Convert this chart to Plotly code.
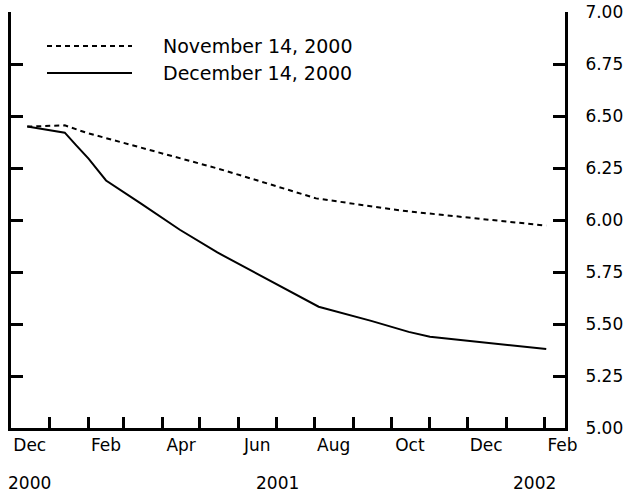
import plotly.graph_objects as go

# ---- data ----
series_names = ["November 14, 2000", "December 14, 2000"]

nov_dates = ["2000-12-14", "2001-01-13", "2001-01-30", "2001-03-15", "2001-04-15",
             "2001-05-15", "2001-06-15", "2001-07-15", "2001-08-02", "2001-09-23",
             "2001-10-15", "2001-11-15", "2001-12-15", "2002-01-15", "2002-02-02"]
nov_values = [6.449, 6.455, 6.42, 6.349, 6.298,
              6.248, 6.192, 6.137, 6.104, 6.059,
              6.041, 6.022, 6.004, 5.985, 5.973]

dec_dates = ["2000-12-14", "2001-01-13", "2001-01-22", "2001-02-01", "2001-02-09",
             "2001-02-15", "2001-03-15", "2001-04-15", "2001-05-15", "2001-06-15",
             "2001-07-15", "2001-08-04", "2001-09-15", "2001-10-15", "2001-11-01",
             "2001-12-01", "2002-01-01", "2002-02-02"]
dec_values = [6.449, 6.42, 6.36, 6.295, 6.235,
              6.19, 6.079, 5.953, 5.844, 5.745,
              5.65, 5.583, 5.515, 5.462, 5.439,
              5.42, 5.401, 5.38]

month_starts = ["2001-01-01", "2001-02-01", "2001-03-01", "2001-04-01", "2001-05-01",
                "2001-06-01", "2001-07-01", "2001-08-01", "2001-09-01", "2001-10-01",
                "2001-11-01", "2001-12-01", "2002-01-01", "2002-02-01"]
month_label_dates = ["2000-12-16", "2001-02-15", "2001-04-16", "2001-06-16",
                     "2001-08-16", "2001-10-16", "2001-12-16", "2002-02-15"]
month_labels = ["Dec", "Feb", "Apr", "Jun", "Aug", "Oct", "Dec", "Feb"]
year_label_dates = ["2000-12-16", "2001-07-02", "2002-01-24"]
year_labels = ["2000", "2001", "2002"]
y_tickvals = [5.00, 5.25, 5.50, 5.75, 6.00, 6.25, 6.50, 6.75, 7.00]

# ---- figure ----
W, H = 628, 497
ML, MT = 11, 12
MR = W - 565
MB = H - 428
FONT = dict(family="DejaVu Sans, Liberation Sans, sans-serif", size=19, color="black")
TFONT = dict(family="DejaVu Sans, Liberation Sans, sans-serif", size=17, color="black")

fig = go.Figure()
fig.add_trace(go.Scatter(x=nov_dates, y=nov_values, mode="lines", name=series_names[0],
                         line=dict(color="black", width=2, dash="5px,4px")))
fig.add_trace(go.Scatter(x=dec_dates, y=dec_values, mode="lines", name=series_names[1],
                         line=dict(color="black", width=2)))

pw = W - ML - MR
ph = H - MT - MB

def px_x(p):
    return (p - ML) / pw

def px_y(p):
    return (H - MB - p) / ph

# custom legend
for i, (dash, ypx) in enumerate([("5px,4px", 46), ("solid", 73)]):
    fig.add_shape(type="line", xref="paper", yref="paper",
                  x0=px_x(47), x1=px_x(132), y0=px_y(ypx), y1=px_y(ypx),
                  line=dict(color="black", width=2, dash=dash))
    fig.add_annotation(xref="paper", yref="paper", x=px_x(161), y=px_y(ypx),
                       text=series_names[i], showarrow=False, xanchor="left",
                       yanchor="middle", font=FONT)

for d, t in zip(year_label_dates, year_labels):
    fig.add_annotation(xref="x", yref="paper", x=d, y=px_y(483), text=t,
                       showarrow=False, xanchor="center", yanchor="middle", font=TFONT)

fig.update_layout(
    width=W, height=H,
    margin=dict(l=ML, r=MR, t=MT, b=MB, autoexpand=False),
    paper_bgcolor="white", plot_bgcolor="white",
    showlegend=False,
    font=FONT,
    xaxis=dict(
        range=["2000-12-01", "2002-02-17"],
        type="date", automargin=False,
        tickvals=month_label_dates, ticktext=month_labels,
        ticks="", showgrid=False, zeroline=False,
        showline=True, linecolor="black", linewidth=3,
        tickfont=TFONT, ticklabelstandoff=0, ticklabeloverflow="allow",
        minor=dict(tickvals=month_starts, ticks="inside", ticklen=11,
                   tickwidth=2.5, tickcolor="black", showgrid=False),
    ),
    yaxis=dict(
        range=[5, 7], side="right", automargin=False,
        tickvals=y_tickvals, tickformat=".2f",
        ticks="inside", ticklen=12, tickwidth=3, tickcolor="black",
        showline=True, linecolor="black", linewidth=3, mirror="ticks",
        showgrid=False, zeroline=False, tickfont=TFONT,
        ticklabelstandoff=14, ticklabeloverflow="allow",
    ),
)

fig.write_html("out.html",
               config={"displayModeBar": False},
               post_script="document.body.style.margin='0';document.body.style.overflow='hidden';")
